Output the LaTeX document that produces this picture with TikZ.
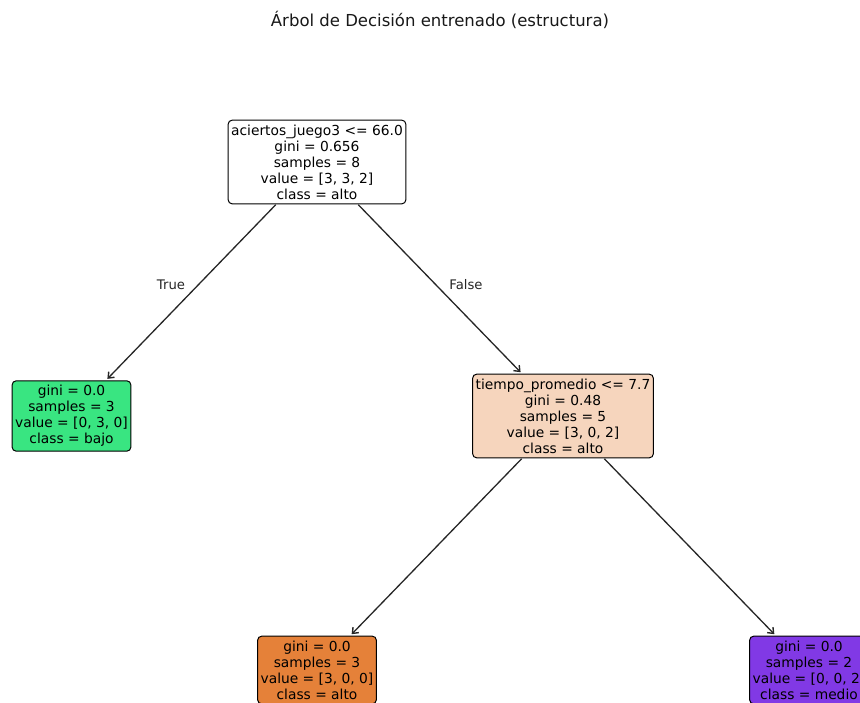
\documentclass[tikz,border=0pt]{standalone}
\usepackage{fontspec}
\setmainfont{DejaVu Sans}
\usetikzlibrary{arrows.meta}
\definecolor{leafbajo}{HTML}{39E581}
\definecolor{leafalto}{HTML}{E58139}
\definecolor{leafmedio}{HTML}{8139E5}
\definecolor{splitalto}{HTML}{F6D5BD}
\begin{document}
\begin{tikzpicture}[x=1pt,y=-1pt,
  treenode/.style={draw=black, line width=1pt, rounded corners=4pt, align=center,
    inner xsep=3pt, inner ysep=4.5pt, font=\fontsize{13.8}{16}\selectfont},
  edge/.style={draw=black!85, line width=1.3pt,
    -{Straight Barb[length=5pt,width=8pt,line width=1.4pt]}, shorten >=2pt, shorten <=0.5pt},
  edgelabel/.style={font=\fontsize{13.2}{15}\selectfont, text=black!85},
  titletext/.style={font=\fontsize{16.5}{19}\selectfont, text=black!90}]
\useasboundingbox (0,0) rectangle (860,702);
\clip (0,0) rectangle (860,702);
\fill[white] (0,0) rectangle (860,702);

\node[titletext] (title) at (440,20) {Árbol de Decisión entrenado (estructura)};

% decision tree nodes
\node[treenode, fill=white] (root) at (317,162)
  {aciertos\_juego3 <= 66.0\\gini = 0.656\\samples = 8\\value = [3, 3, 2]\\class = alto};
\node[treenode, fill=leafbajo] (leftleaf) at (71.5,416)
  {gini = 0.0\\samples = 3\\value = [0, 3, 0]\\class = bajo};
\node[treenode, fill=splitalto] (mid) at (563,416)
  {tiempo\_promedio <= 7.7\\gini = 0.48\\samples = 5\\value = [3, 0, 2]\\class = alto};
\node[treenode, fill=leafalto] (altoleaf) at (317,670)
  {gini = 0.0\\samples = 3\\value = [3, 0, 0]\\class = alto};
\node[treenode, fill=leafmedio] (medioleaf) at (809,670)
  {gini = 0.0\\samples = 2\\value = [0, 0, 2]\\class = medio};

% branches
\draw[edge] (root) -- (leftleaf);
\draw[edge] (root) -- (mid);
\draw[edge] (mid) -- (altoleaf);
\draw[edge] (mid) -- (medioleaf);

\node[edgelabel] (truelabel) at (171,285) {True};
\node[edgelabel] (falselabel) at (466,285) {False};
\end{tikzpicture}
\end{document}
